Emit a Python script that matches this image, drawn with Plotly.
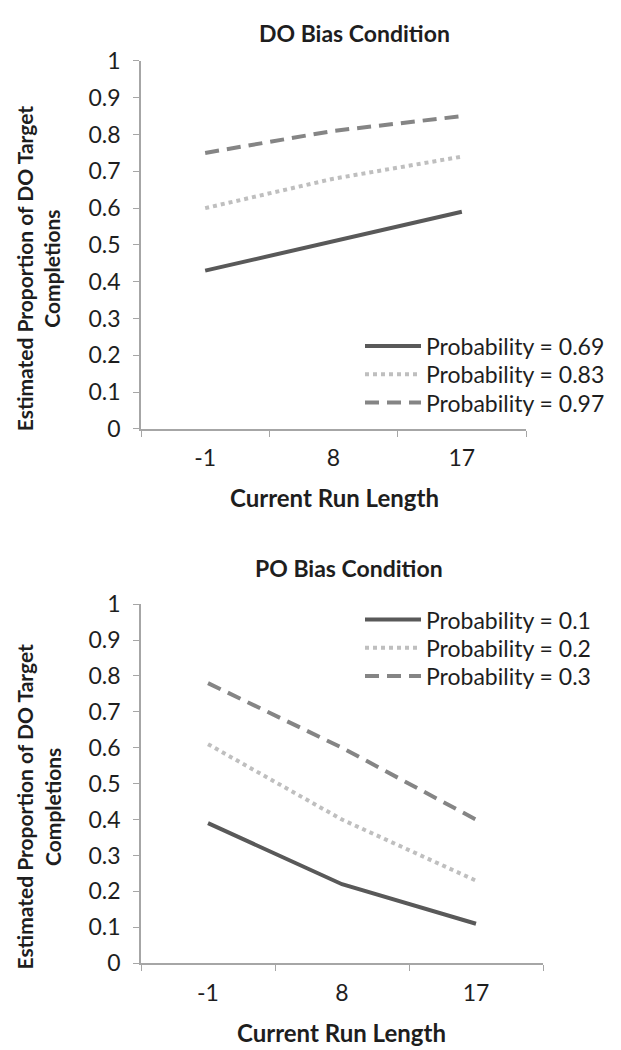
import plotly.graph_objects as go

run_length = ["-1", "8", "17"]

do_labels = ["Probability = 0.69", "Probability = 0.83", "Probability = 0.97"]
do_p069 = [0.43, 0.51, 0.59]
do_p083 = [0.60, 0.68, 0.74]
do_p097 = [0.75, 0.81, 0.85]

po_labels = ["Probability = 0.1", "Probability = 0.2", "Probability = 0.3"]
po_p01 = [0.39, 0.22, 0.11]
po_p02 = [0.61, 0.40, 0.23]
po_p03 = [0.78, 0.60, 0.40]

y_ticks = [0, 0.1, 0.2, 0.3, 0.4, 0.5, 0.6, 0.7, 0.8, 0.9, 1]
y_ticktext = ["0", "0.1", "0.2", "0.3", "0.4", "0.5", "0.6", "0.7", "0.8", "0.9", "1"]

W, H = 621, 1050
FONT = "Lato"
TXT = "#1e1e1e"
styles = [
    dict(color="#595959", width=4, dash="solid"),
    dict(color="#bfbfbf", width=4, dash="dot"),
    dict(color="#858585", width=4, dash="14px,8px"),
]


def px_x(p):
    return p / W


def px_y(p):
    return 1 - p / H


fig = go.Figure()
legend_rows_top = [332, 361, 390]
legend_rows_bot = [613, 642, 671]
legend_layout = {}
k = 1
for vals, lab, st, row in zip([do_p069, do_p083, do_p097], do_labels, styles, legend_rows_top):
    lname = "legend" if k == 1 else f"legend{k}"
    fig.add_trace(go.Scatter(x=run_length, y=vals, mode="lines", name=lab,
                             line=st, xaxis="x", yaxis="y", legend=lname))
    legend_layout[lname] = dict(x=px_x(352), y=px_y(row), xanchor="left", yanchor="middle",
                                font=dict(family=FONT, size=23, color=TXT),
                                bgcolor="rgba(0,0,0,0)", itemwidth=56)
    k += 1
for vals, lab, st, row in zip([po_p01, po_p02, po_p03], po_labels, styles, legend_rows_bot):
    lname = f"legend{k}"
    fig.add_trace(go.Scatter(x=run_length, y=vals, mode="lines", name=lab,
                             line=st, xaxis="x2", yaxis="y2", legend=lname))
    legend_layout[lname] = dict(x=px_x(352), y=px_y(row), xanchor="left", yanchor="middle",
                                font=dict(family=FONT, size=23, color=TXT),
                                bgcolor="rgba(0,0,0,0)", itemwidth=56)
    k += 1

axis_common = dict(showgrid=False, zeroline=False, showline=True, linecolor="#a6a6a6",
                   linewidth=1.5, ticks="outside", tickcolor="#a6a6a6", ticklen=6,
                   tickfont=dict(family=FONT, size=23, color=TXT))

fig.update_layout(
    width=W, height=H, margin=dict(l=0, r=0, t=0, b=0),
    paper_bgcolor="white", plot_bgcolor="white",
    showlegend=True,
    xaxis=dict(domain=[px_x(133), px_x(518)], anchor="y", type="category",
               tickson="boundaries", range=[-0.5, 2.5], ticklabelstandoff=8, **axis_common),
    yaxis=dict(domain=[px_y(417), px_y(39)], anchor="x", range=[0, 1],
               tickvals=y_ticks, ticktext=y_ticktext, ticklabelstandoff=8, **axis_common),
    xaxis2=dict(domain=[px_x(133), px_x(535)], anchor="y2", type="category",
                tickson="boundaries", range=[-0.5, 2.5], ticklabelstandoff=8, **axis_common),
    yaxis2=dict(domain=[px_y(966), px_y(597)], anchor="x2", range=[0, 1],
                tickvals=y_ticks, ticktext=y_ticktext, ticklabelstandoff=8, **axis_common),
    **legend_layout,
)

ann = [
    dict(text="<b>DO Bias Condition</b>", x=px_x(346), y=px_y(10), size=23, angle=0),
    dict(text="<b>Current Run Length</b>", x=px_x(326), y=px_y(487), size=24, angle=0),
    dict(text="<b>PO Bias Condition</b>", x=px_x(341), y=px_y(560), size=23, angle=0),
    dict(text="<b>Current Run Length</b>", x=px_x(333), y=px_y(1037), size=24, angle=0),
    dict(text="<b>Estimated Proportion of DO Target</b><br><b>Completions</b>",
         x=px_x(30), y=px_y(252), size=21, angle=-90),
    dict(text="<b>Estimated Proportion of DO Target</b><br><b>Completions</b>",
         x=px_x(30), y=px_y(805), size=21, angle=-90),
]
for a in ann:
    fig.add_annotation(text=a["text"], x=a["x"], y=a["y"], xref="paper", yref="paper",
                       showarrow=False, textangle=a["angle"], xanchor="center", yanchor="middle",
                       font=dict(family=FONT, size=a["size"], color=TXT))

fig.write_html("out.html")
